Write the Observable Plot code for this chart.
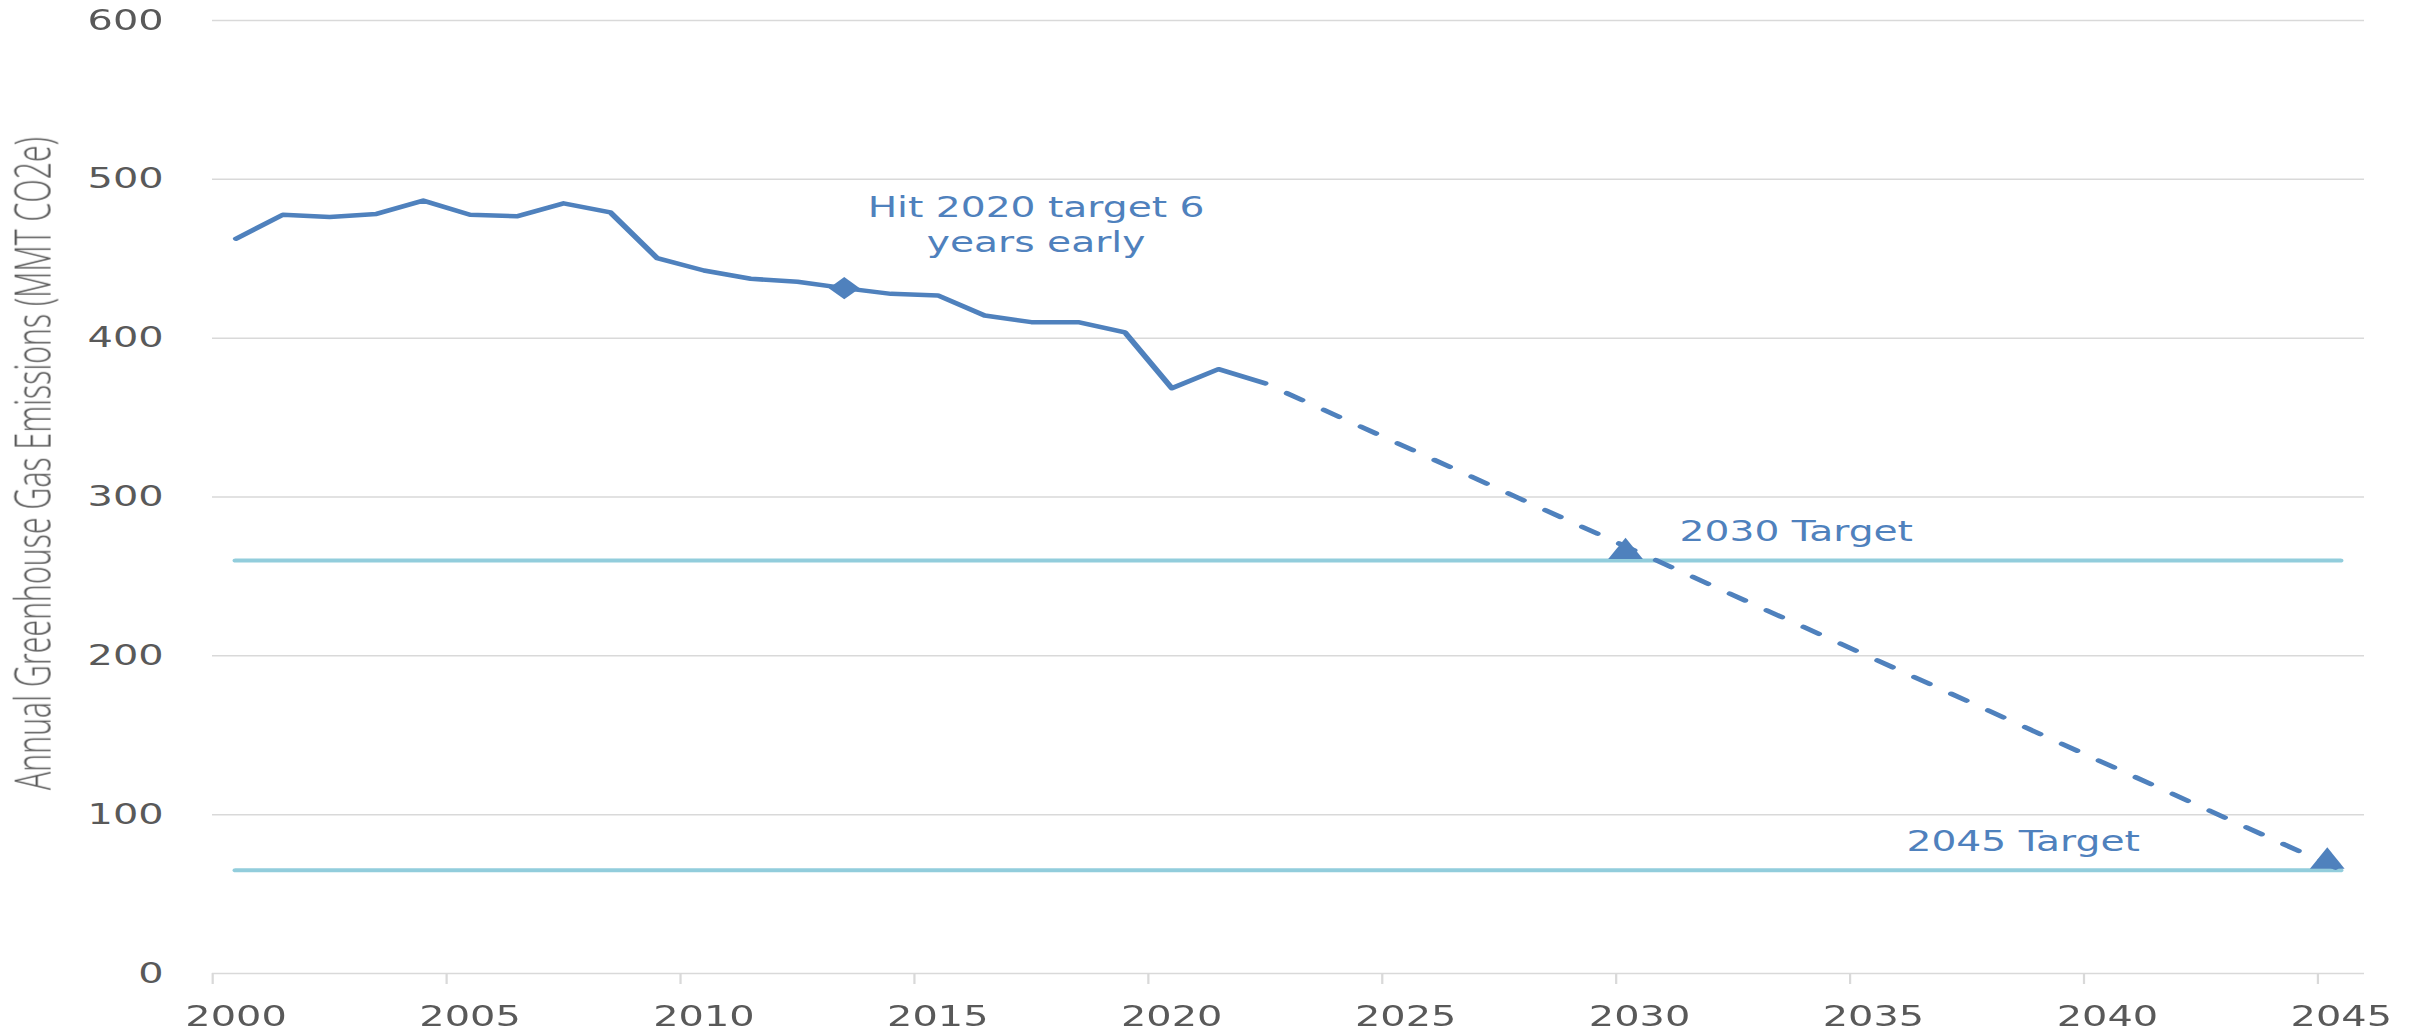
<!DOCTYPE html>
<html>
<head>
<meta charset="utf-8">
<script src="https://cdn.jsdelivr.net/npm/d3@7"></script>
<script src="https://cdn.jsdelivr.net/npm/@observablehq/plot@0.6"></script>
<style>
  html, body { margin: 0; padding: 0; background: #ffffff; overflow: hidden; }
  #chart { transform-origin: 0 0; }
  #chart svg g[aria-label^="x-axis"] text,
  #chart svg g[aria-label^="y-axis"] text {
    font-family: 'DejaVu Sans', sans-serif;
    font-size: 28.5px;
    fill: #595959;
  }
</style>
</head>
<body>
<div id="chart"></div>
<script>
// ---------- data ----------
const years = [2000, 2001, 2002, 2003, 2004, 2005, 2006, 2007, 2008, 2009, 2010, 2011,
               2012, 2013, 2014, 2015, 2016, 2017, 2018, 2019, 2020, 2021, 2022];
const emissions = [462.6, 477.7, 476.3, 478.2, 486.6, 477.7, 476.7, 484.9, 479.2, 450.4, 442.6, 437.4,
                   435.5, 431.5, 427.9, 426.9, 414.3, 410.1, 410.1, 403.6, 368.5, 380.5, 371.5];

const projectionYears = [2022, 2045];
const projectionValues = [371.5, 65];

const targetLabels = ["2030 Target", "2045 Target"];
const targetValues = [260, 65];
const targetStart = 2000;
const targetEnd = 2045;

const milestoneYears = [2029.7, 2044.7];
const milestoneValues = [265.4, 70.5];

const earlyYear = 2013;
const earlyValue = 431.5;

const annotationTexts = ["Hit 2020 target 6\nyears early", "2030 Target", "2045 Target"];
const annotationYears = [2017.1, 2033.35, 2038.2];
const annotationValues = [472.1, 279.5, 84.3];

const yTicks = [0, 100, 200, 300, 400, 500, 600];
const xLabelYears = [2000, 2005, 2010, 2015, 2020, 2025, 2030, 2035, 2040, 2045];
const yTitle = "Annual Greenhouse Gas Emissions (MMT CO2e)";

// ---------- tables built from the arrays ----------
const history = years.map((y, i) => ({year: y, value: emissions[i]}));
const projection = projectionYears.map((y, i) => ({year: y, value: projectionValues[i]}));
const targets = targetValues.map((v, i) => ({label: targetLabels[i], value: v, from: targetStart, to: targetEnd}));
const milestones = milestoneYears.map((y, i) => ({year: y, value: milestoneValues[i]}));
const annotations = annotationTexts.map((t, i) => ({text: t, year: annotationYears[i], value: annotationValues[i]}));
const tickBoundaries = xLabelYears.map(y => y - 0.5); // category boundaries

// ---------- layout ----------
const FULL_W = 2425;
const S = 1.4;                       // horizontal stretch of the original picture
const W = Math.round(FULL_W / S);
const SX = FULL_W / W;
const TITLE_LEN = 653;               // length of the rotated axis title, px

const blue = "#4F81BD";
const cyan = "#92CDDC";
const grid = "#D9D9D9";
const grey = "#595959";

const chart = Plot.plot({
  width: W,
  height: 1032,
  marginLeft: 212 / SX,
  marginRight: (FULL_W - 2364) / SX,
  marginTop: 20,
  marginBottom: 59,
  style: {fontFamily: "'DejaVu Sans', sans-serif", fontSize: "28.5px", color: grey, background: "#ffffff", overflow: "visible"},
  x: {domain: [1999.5, 2045.5], ticks: xLabelYears, tickSize: 0, tickPadding: 32.5, tickFormat: d => String(d), label: null},
  y: {domain: [0, 600], ticks: yTicks, tickSize: 0, tickPadding: 35, label: null},
  marks: [
    Plot.ruleY(yTicks, {stroke: grid, strokeWidth: 1.5}),
    Plot.ruleX(tickBoundaries, {x: d => d, y1: () => 0, y2: () => 0, insetBottom: -11, stroke: grid, strokeWidth: 1.6}),
    Plot.ruleY(targets, {y: "value", x1: "from", x2: "to", stroke: cyan, strokeWidth: 4, strokeLinecap: "round"}),
    Plot.line(history, {x: "year", y: "value", stroke: blue, strokeWidth: 4.5, strokeLinejoin: "round", strokeLinecap: "round"}),
    Plot.line(projection, {x: "year", y: "value", stroke: blue, strokeWidth: 4.5, strokeLinecap: "round",
                           strokeDasharray: "12.9 18.3", strokeDashoffset: 12.9}),
    Plot.dot([{year: earlyYear, value: earlyValue}], {x: "year", y: "value", symbol: d3.symbolDiamond2, r: 10, fill: blue, stroke: "none"}),
    Plot.dot(milestones, {x: "year", y: "value", symbol: "triangle", r: 9.2, fill: blue, stroke: "none"}),
    Plot.text(annotations, {x: "year", y: "value", text: "text", fill: blue, fontSize: 28, lineHeight: 1.25,
                            fontFamily: "'DejaVu Sans', sans-serif"}),
    Plot.text([yTitle], {text: d => d, frameAnchor: "top-left", textAnchor: "middle", lineAnchor: "middle",
                         rotate: -90, dx: 24.5 - 212 / SX, dy: 443,
                         fontSize: 35, fill: grey, fontFamily: "'Open Sans', sans-serif", fontWeight: 300})
  ]
});

const holder = document.getElementById("chart");
holder.style.width = W + "px";
holder.style.transform = `scaleX(${SX})`;
holder.appendChild(chart);

// condense the rotated title along its length (the original uses a condensed face)
const titleText = Array.from(chart.querySelectorAll("text")).find(t => t.textContent === yTitle);
if (titleText) {
  const bb = titleText.getBBox();
  const len = bb.width > 0 ? bb.width : titleText.getComputedTextLength();
  if (len > 0) {
    const k = TITLE_LEN / len;
    titleText.setAttribute("font-size", 35);
    titleText.style.fontSize = "35px";
    const tr = titleText.getAttribute("transform") || "";
    titleText.setAttribute("transform", (tr + ` scale(${k.toFixed(4)},1)`).trim());
  }
}
</script>
</body>
</html>
